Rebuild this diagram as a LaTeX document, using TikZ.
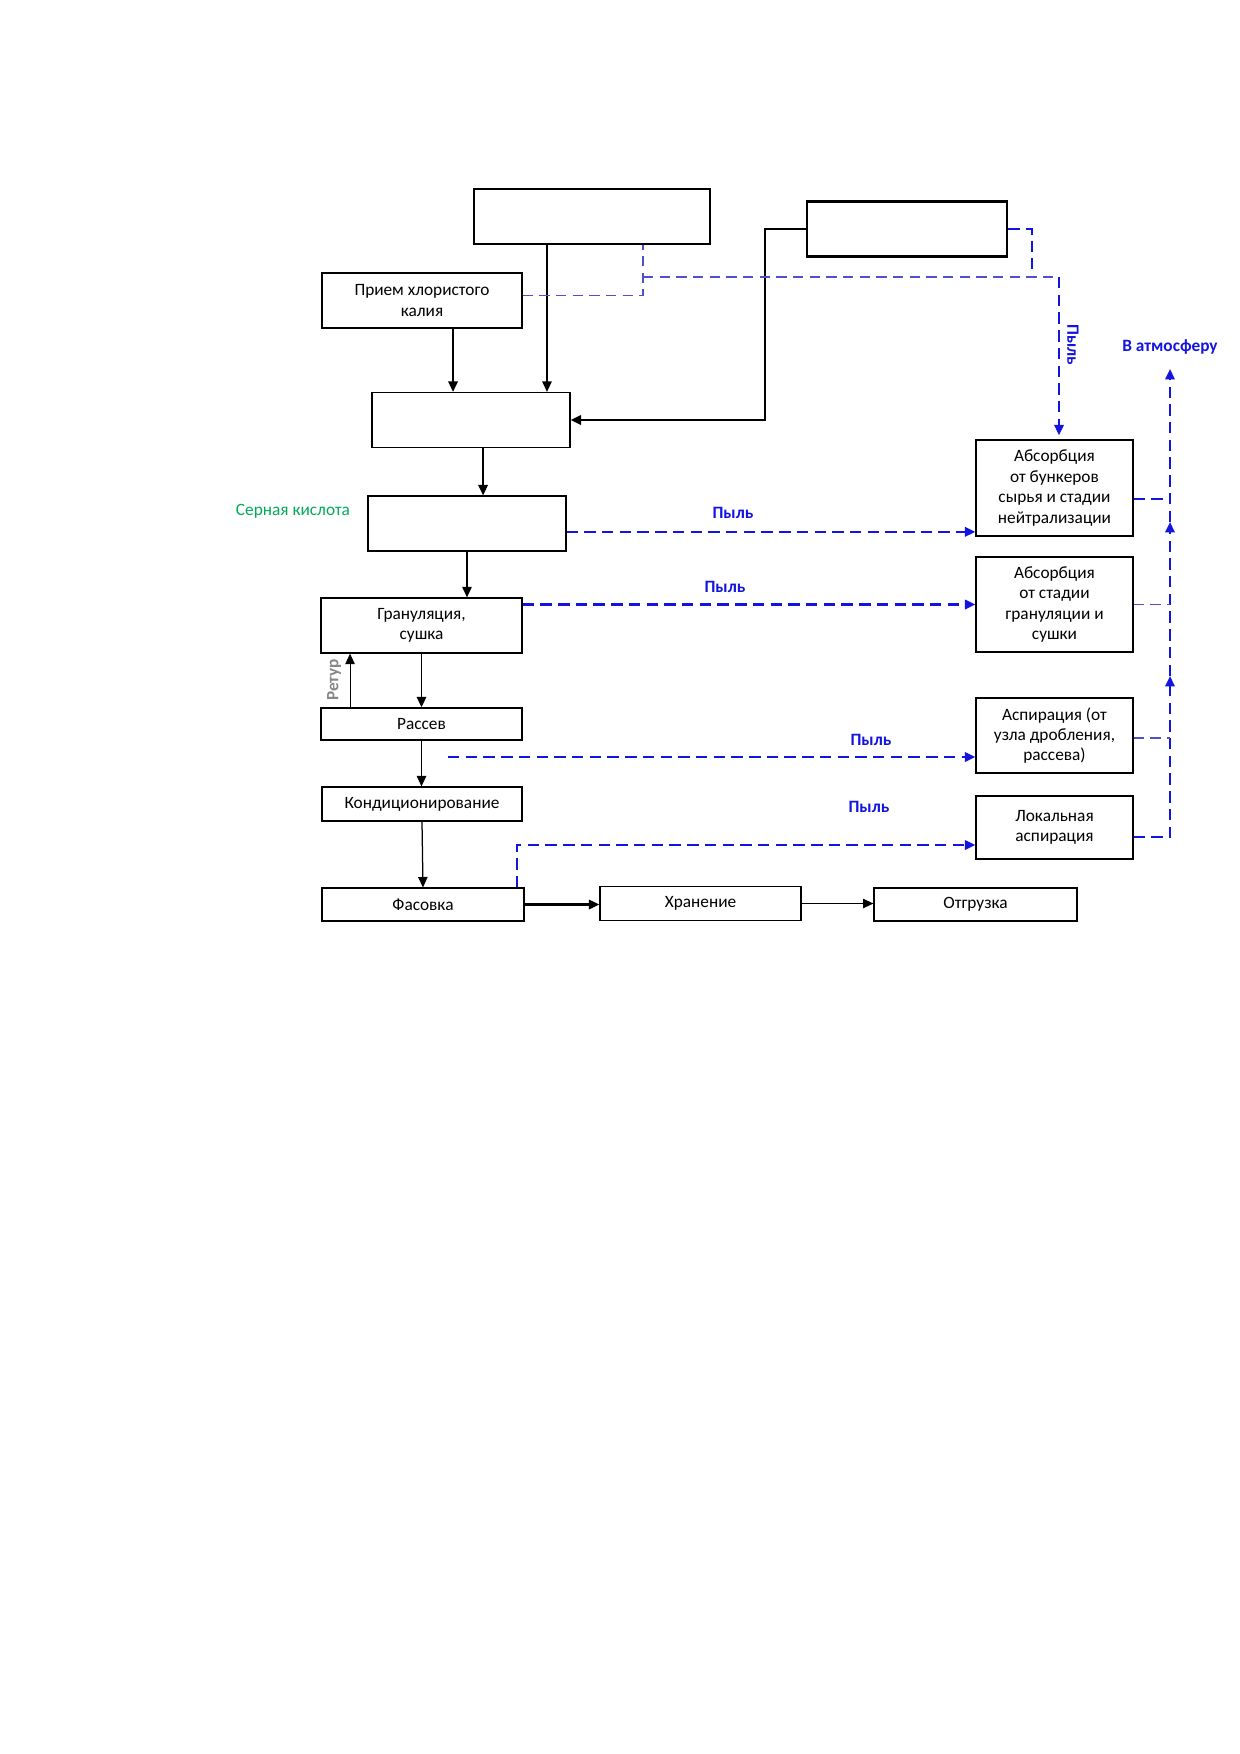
\documentclass[tikz,border=0pt]{standalone}
\usepackage{fontspec}
\setmainfont{Carlito}
\usetikzlibrary{arrows.meta}

\definecolor{dustblue}{RGB}{20,20,225}
\definecolor{dustlight}{RGB}{80,80,205}
\definecolor{acidgreen}{RGB}{0,170,90}
\definecolor{returngray}{RGB}{135,135,135}

\tikzset{
	block/.style={draw, rectangle, line width=0.6pt, align=center, inner sep=1pt, font=\fontsize{8.3}{9.8}\selectfont},
	mainblock/.style={block, line width=1.3pt},
	flow/.style={-{Triangle[length=5pt,width=4.5pt]}, line width=0.6pt},
	dust/.style={draw=dustblue, line width=1.1pt, dash pattern=on 5.5pt off 3pt},
	dustthin/.style={draw=dustlight, line width=0.5pt, dash pattern=on 5pt off 3pt},
	dusttip/.style={-{Triangle[length=5pt,width=4.5pt]}, color=dustblue},
	dustlabel/.style={text=dustblue, font=\fontsize{8.3}{9.8}\selectfont\bfseries}
}

\begin{document}
\begin{tikzpicture}[x=0.48pt, y=-0.48pt]
	\useasboundingbox (0,0) rectangle (1240,1754);
	
	%Top blocks
	\node (TopLeft) at (592,216.5) [mainblock, minimum width=113.3pt, minimum height=26.4pt]{};
	\node (TopRight) at (907,229) [mainblock, minimum width=96pt, minimum height=26.4pt]{};
	
	%Process column
	\node (Intake) at (422,300.5) [block, minimum width=96pt, minimum height=26.4pt]{Прием хлористого\\калия};
	\node (Mixer) at (471,420) [block, minimum width=95pt, minimum height=26.4pt]{};
	\node (Neutralizer) at (467,523.5) [block, minimum width=95pt, minimum height=26.4pt]{};
	\node (Granulation) at (421.5,625.5) [block, minimum width=96.5pt, minimum height=26.4pt]{Грануляция,\\сушка};
	\node (Screening) at (421.5,724) [block, minimum width=96.5pt, minimum height=15.4pt]{Рассев};
	\node (Conditioning) at (422,804) [block, minimum width=96pt, minimum height=16.3pt]{Кондиционирование};
	\node (Packing) at (423,904.5) [block, minimum width=97pt, minimum height=15.8pt]{Фасовка};
	\node (Storage) at (700.5,903.5) [block, minimum width=96.5pt, minimum height=16.3pt]{Хранение};
	\node (Shipping) at (975.5,904.5) [block, minimum width=97.4pt, minimum height=15.8pt]{Отгрузка};
	
	%Cleaning column
	\node (AbsBunkers) at (1054.5,488) [block, minimum width=75.4pt, minimum height=46pt]{Абсорбция\\от бункеров\\сырья и стадии\\нейтрализации};
	\node (AbsGranulation) at (1054.5,604.5) [block, minimum width=75.4pt, minimum height=45.6pt]{Абсорбция\\от стадии\\грануляции и\\сушки};
	\node (Aspiration) at (1054.5,735.5) [block, minimum width=75.4pt, minimum height=36pt]{Аспирация (от\\узла дробления,\\рассева)};
	\node (LocalAspiration) at (1054.5,827.5) [block, minimum width=75.4pt, minimum height=30.2pt]{Локальная\\аспирация};
	
	%Labels
	\node (Acid) at (293,511) [text=acidgreen, font=\fontsize{8.3}{9.8}\selectfont]{Серная кислота};
	\node (Return) at (334,680) [text=returngray, font=\fontsize{8.3}{9.8}\selectfont\bfseries, rotate=90]{Ретур};
	\node (DustTop) at (1073,345) [dustlabel, rotate=-90]{Пыль};
	\node (Atmosphere) at (1170,347) [dustlabel]{В атмосферу};
	\node (DustNeutr) at (733,513) [dustlabel]{Пыль};
	\node (DustGran) at (725,587) [dustlabel]{Пыль};
	\node (DustScreen) at (871,740) [dustlabel]{Пыль};
	\node (DustLocal) at (869,807) [dustlabel]{Пыль};
	
	%Material flow
	\coordinate (IntakeDown) at ([xshift=14.9pt]Intake.south);
	\coordinate (TopLeftDown) at ([xshift=-21.6pt]TopLeft.south);
	\coordinate (FeedBend) at (765,229);
	\coordinate (MixerDown) at ([xshift=5.8pt]Mixer.south);
	\coordinate (ReturnUp) at ([xshift=-34.3pt]Screening.north);
	\draw[flow, line width=1pt] (IntakeDown) -- (IntakeDown |- Mixer.north);
	\draw[flow] (TopLeftDown) -- (TopLeftDown |- Mixer.north);
	\draw[flow, line width=1pt] (TopRight.west) -- (FeedBend) |- (Mixer.east);
	\draw[flow, line width=1pt] (MixerDown) -- (MixerDown |- Neutralizer.north);
	\draw[flow] (Neutralizer.south) -- (Neutralizer.south |- Granulation.north);
	\draw[flow, line width=0.9pt] (Granulation.south) -- (Screening.north);
	\draw[flow, line width=0.5pt] (ReturnUp) -- (ReturnUp |- Granulation.south);
	\draw[flow] (Screening.south) -- (Screening.south |- Conditioning.north);
	\draw[flow] (Conditioning.south) -- (Packing.north);
	\draw[flow, line width=1pt] (Packing.east) -- (Packing.east -| Storage.west);
	\draw[flow] (Storage.east) -- (Storage.east -| Shipping.west);
	
	%Dust from the top
	\coordinate (DustJoin) at (643,277);
	\coordinate (DustCorner) at (1059,277);
	\coordinate (IntakeOut) at ([yshift=2.2pt]Intake.east);
	\coordinate (TopRightDrop) at (1032,269);
	\draw[dustthin] (IntakeOut) -| (DustJoin |- TopLeft.south);
	\draw[dustthin] (DustJoin) -- (DustCorner);
	\draw[dust, dusttip, shorten >=2pt] (DustCorner) -- (DustCorner |- AbsBunkers.north);
	\draw[dust] (TopRight.east) -| (TopRightDrop);
	
	%Dust to cleaning
	\coordinate (NeutrOut) at ([yshift=-4pt]Neutralizer.east);
	\coordinate (ScreenDust) at (448,757);
	\coordinate (PackDust) at (517,845);
	\draw[dust, dusttip] (NeutrOut) -- (NeutrOut -| AbsBunkers.west);
	\draw[dust, dusttip] (AbsGranulation.west -| Granulation.east) -- (AbsGranulation.west);
	\draw[dust, dusttip] (ScreenDust) -- (ScreenDust -| Aspiration.west);
	\draw[dust, dusttip] (PackDust |- Packing.north) -- (PackDust) -- (PackDust -| LocalAspiration.west);
	
	%Collector to atmosphere
	\coordinate (Vent) at (1170,369);
	\coordinate (RiseA) at (1170,522);
	\coordinate (RiseB) at (1170,676);
	\coordinate (BunkersOut) at ([yshift=-5.3pt]AbsBunkers.east);
	\coordinate (AspOut) at ([yshift=-1.2pt]Aspiration.east);
	\coordinate (LocalOut) at ([yshift=-4.6pt]LocalAspiration.east);
	\draw[dust, dusttip] (LocalOut) -| (RiseB);
	\draw[dust, dusttip] (RiseB) -- (RiseA);
	\draw[dust, dusttip] (RiseA) -- (Vent);
	\draw[dust] (BunkersOut) -- (BunkersOut -| Vent);
	\draw[dustthin] (AbsGranulation.east) -- (AbsGranulation.east -| Vent);
	\draw[dustthin] (AspOut) -- (AspOut -| Vent);
	
\end{tikzpicture}
\end{document}
